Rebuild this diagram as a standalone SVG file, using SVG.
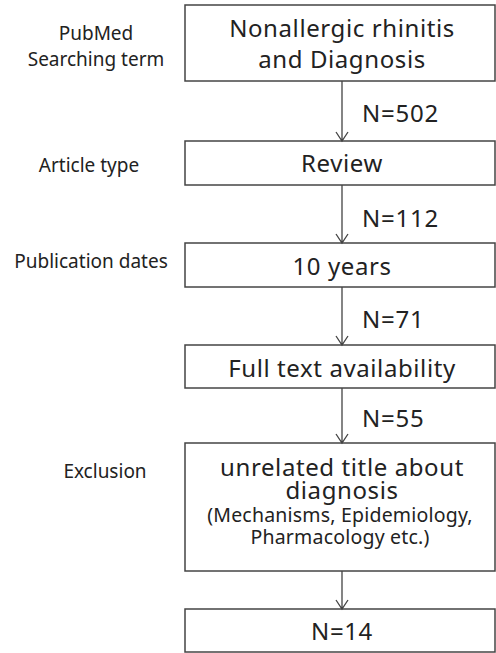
<svg xmlns="http://www.w3.org/2000/svg" width="496" height="653" viewBox="0 0 496 653">
<style>
.box{fill:#fff;stroke:#444;stroke-width:1.5}
.t{font-family:"Noto Sans","Open Sans",sans-serif;fill:#222;text-anchor:middle}
.big{font-size:24px;letter-spacing:0.6px}
.sm{font-size:19.5px;letter-spacing:0.2px}
.num{font-family:"Noto Sans","Open Sans",sans-serif;fill:#222;font-size:24px;letter-spacing:0.8px}
.lab{font-family:"Noto Sans","Open Sans",sans-serif;fill:#222;text-anchor:middle;font-size:19px}
.con{stroke:#444;stroke-width:1.3;fill:none}
</style>
<rect width="496" height="653" fill="#fff"/>
<g id="labels">
<text class="lab" x="96" y="40">PubMed</text>
<text class="lab" x="96" y="66">Searching term</text>
<text class="lab" x="89" y="172">Article type</text>
<text class="lab" x="91" y="268">Publication dates</text>
<text class="lab" x="105" y="478">Exclusion</text>
</g>
<g id="n1"><rect class="box" x="185" y="5" width="310" height="76"/>
<text class="t big" x="342" y="37">Nonallergic rhinitis</text>
<text class="t big" x="342" y="67.5">and Diagnosis</text></g>
<g id="n2"><rect class="box" x="185" y="141" width="310" height="44"/>
<text class="t big" x="342" y="172">Review</text></g>
<g id="n3"><rect class="box" x="185" y="243" width="310" height="44"/>
<text class="t big" x="342" y="275">10 years</text></g>
<g id="n4"><rect class="box" x="185" y="345" width="310" height="43"/>
<text class="t big" x="342" y="377">Full text availability</text></g>
<g id="n5"><rect class="box" x="185" y="443" width="310" height="128"/>
<text class="t big" x="342" y="475.5">unrelated title about</text>
<text class="t big" x="342" y="498.5">diagnosis</text>
<text class="t sm" x="340" y="522">(Mechanisms, Epidemiology,</text>
<text class="t sm" x="340" y="543.5">Pharmacology etc.)</text></g>
<g id="n6"><rect class="box" x="185" y="609" width="310" height="43"/>
<text class="t big" x="342" y="640">N=14</text></g>
<g id="connectors">
<path class="con" d="M342 81V141M336 132L342 141L348 132"/>
<path class="con" d="M342 185V243M336 234L342 243L348 234"/>
<path class="con" d="M342 287V345M336 336L342 345L348 336"/>
<path class="con" d="M342 388V443M336 434L342 443L348 434"/>
<path class="con" d="M342 571V609M336 600L342 609L348 600"/>
<text class="num" x="362" y="122">N=502</text>
<text class="num" x="362" y="227">N=112</text>
<text class="num" x="362" y="328">N=71</text>
<text class="num" x="362" y="427">N=55</text>
</g>
</svg>
